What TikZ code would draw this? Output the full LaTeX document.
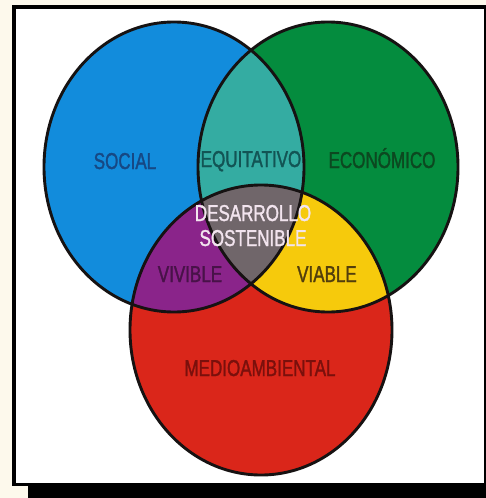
\documentclass[tikz,border=0pt]{standalone}
\usepackage{fontspec}
\newfontfamily\lblfont{Liberation Sans}[FakeStretch=0.74,FakeBold=1.4]
\definecolor{cream}{RGB}{253,249,236}
\definecolor{cblue}{RGB}{18,140,220}
\definecolor{cgreen}{RGB}{4,140,62}
\definecolor{cred}{RGB}{218,38,26}
\definecolor{cteal}{RGB}{52,172,162}
\definecolor{cpurple}{RGB}{138,36,138}
\definecolor{cyellow}{RGB}{246,202,12}
\definecolor{cgrey}{RGB}{112,102,106}
\definecolor{rimc}{RGB}{22,18,18}
\definecolor{tblue}{RGB}{22,72,132}
\definecolor{tteal}{RGB}{18,84,84}
\definecolor{tgreen}{RGB}{12,72,32}
\definecolor{tpurple}{RGB}{72,18,72}
\definecolor{tyellow}{RGB}{82,62,12}
\definecolor{tred}{RGB}{122,16,12}
\definecolor{twhite}{RGB}{242,228,238}
\begin{document}
\begin{tikzpicture}[x=1pt,y=-1pt,
  lab/.style={font=\lblfont\fontsize{23}{25}\selectfont, inner sep=0pt, anchor=base},
  rim/.style={draw=rimc, line width=2.9pt}]
\useasboundingbox (0,0) rectangle (486,498);
% frame
\fill[cream] (0,0) rectangle (486,498);
\fill[black] (12,5) rectangle (486,486);
\fill[black] (28,486) rectangle (486,498);
\fill[white] (16,9) rectangle (484,483);
% centres
\coordinate (B) at (174,167);
\coordinate (G) at (328,167);
\coordinate (R) at (261,330);
\tikzset{
  blueE/.style={insert path={(B) ellipse [x radius=130pt, y radius=145pt]}},
  greenE/.style={insert path={(G) ellipse [x radius=130pt, y radius=145pt]}},
  redE/.style={insert path={(R) ellipse [x radius=131pt, y radius=145pt]}}}
% base fills
\fill[cblue, blueE];
\fill[cgreen, greenE];
\fill[cred, redE];
% pairwise
\begin{scope}
  \clip[blueE];
  \fill[cteal, greenE];
  \fill[cpurple, redE];
\end{scope}
\begin{scope}
  \clip[greenE];
  \fill[cyellow, redE];
\end{scope}
\begin{scope}
  \clip[blueE];
  \clip[greenE];
  \fill[cgrey, redE];
\end{scope}
% outlines
\draw[rim, blueE];
\draw[rim, greenE];
\draw[rim, redE];
% labels
\node[lab, text=tblue] (social) at (125,169) {SOCIAL};
\node[lab, text=tteal] (equi) at (251,167) {EQUITATIVO};
\node[lab, text=tgreen] (econ) at (382,168) {ECONÓMICO};
\node[lab, text=twhite] (des) at (253,221) {DESARROLLO};
\node[lab, text=twhite] (sos) at (253,246) {SOSTENIBLE};
\node[lab, text=tpurple] (viv) at (190,282) {VIVIBLE};
\node[lab, text=tyellow] (via) at (327,282) {VIABLE};
\node[lab, text=tred] (medio) at (260,376) {MEDIOAMBIENTAL};
\end{tikzpicture}
\end{document}
